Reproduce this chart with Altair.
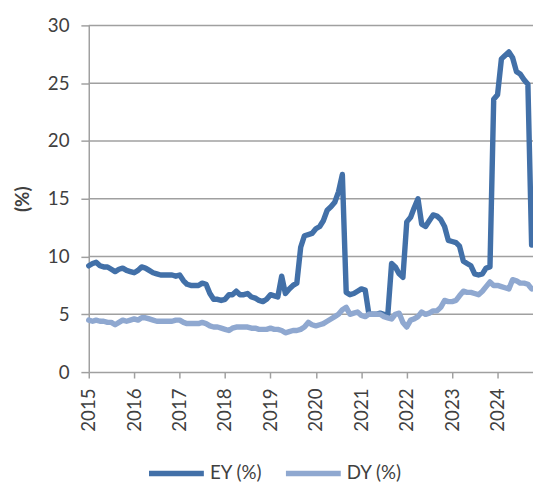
import altair as alt
import pandas as pd

months = pd.date_range("2015-01-01", periods=118, freq="MS").strftime("%Y-%m-%d").tolist()

ey = [9.2, 9.4, 9.5, 9.2, 9.1, 9.1, 8.9, 8.7, 8.9, 9.0, 8.8, 8.7,
      8.6, 8.8, 9.1, 9.0, 8.8, 8.6, 8.5, 8.4, 8.4, 8.4, 8.4, 8.3,
      8.4, 7.9, 7.6, 7.5, 7.5, 7.5, 7.7, 7.6, 6.8, 6.3, 6.3, 6.2,
      6.3, 6.7, 6.7, 7.0, 6.7, 6.7, 6.8, 6.5, 6.4, 6.2, 6.1, 6.3,
      6.7, 6.6, 6.5, 8.3, 6.8, 7.2, 7.5, 7.7, 10.8, 11.8, 11.9, 12.0,
      12.4, 12.6, 13.1, 14.0, 14.3, 14.7, 15.6, 17.1, 6.9, 6.7, 6.8, 7.0,
      7.2, 7.1, 5.1, 5.0, 5.0, 5.1, 5.0, 4.9, 9.4, 9.1, 8.5, 8.2,
      13.0, 13.4, 14.2, 15.0, 12.8, 12.6, 13.1, 13.6, 13.5, 13.2, 12.6, 11.4,
      11.3, 11.2, 10.9, 9.6, 9.4, 9.2, 8.5, 8.4, 8.5, 9.0, 9.1, 23.6,
      24.0, 27.1, 27.4, 27.7, 27.2, 26.0, 25.8, 25.3, 24.9, 11.0]

dy = [4.5, 4.4, 4.5, 4.4, 4.4, 4.3, 4.3, 4.1, 4.3, 4.5, 4.4, 4.5,
      4.6, 4.5, 4.7, 4.7, 4.6, 4.5, 4.4, 4.4, 4.4, 4.4, 4.4, 4.5,
      4.5, 4.3, 4.2, 4.2, 4.2, 4.2, 4.3, 4.2, 4.0, 3.9, 3.9, 3.8,
      3.7, 3.6, 3.8, 3.9, 3.9, 3.9, 3.9, 3.8, 3.8, 3.7, 3.7, 3.7,
      3.8, 3.7, 3.7, 3.6, 3.4, 3.5, 3.6, 3.6, 3.7, 3.9, 4.3, 4.1,
      4.0, 4.1, 4.2, 4.4, 4.6, 4.8, 5.0, 5.4, 5.6, 5.0, 5.1, 5.2,
      4.9, 4.8, 5.0, 5.0, 5.0, 5.0, 4.8, 4.7, 4.6, 5.0, 5.1, 4.3,
      3.9, 4.5, 4.6, 4.8, 5.2, 5.0, 5.1, 5.3, 5.3, 5.6, 6.2, 6.1,
      6.1, 6.2, 6.6, 7.0, 6.9, 6.9, 6.8, 6.7, 7.0, 7.4, 7.8, 7.5,
      7.5, 7.4, 7.3, 7.2, 8.0, 7.9, 7.7, 7.7, 7.6, 7.2]

y_ticks = [0, 5, 10, 15, 20, 25, 30]
x_range = ["2015-01-01", "2024-10-12"]
series_names = ["EY (%)", "DY (%)"]
colors = ["#4270a8", "#8fa8d0"]

rows = []
for d, v in zip(months, ey):
    rows.append({"date": d, "value": v, "series": series_names[0], "order": 0})
for d, v in zip(months, dy):
    rows.append({"date": d, "value": v, "series": series_names[1], "order": 1})
df = pd.DataFrame(rows)

grid_rows = []
for gv in y_ticks[1:]:
    for d in x_range:
        grid_rows.append({"date": d, "gv": gv})
grid_df = pd.DataFrame(grid_rows)

FONT = "Lato"
GRID = "#a0a0a0"

xscale = alt.Scale(domain=x_range)
yscale = alt.Scale(domain=[0, 30], nice=False)
yaxis = alt.Axis(values=y_ticks, title="(%)", grid=False,
                 titleFontSize=19, titleFontWeight="bold", titleColor="#404040",
                 titlePadding=15, labelFontSize=19, labelColor="#404040",
                 labelPadding=12, tickSize=8,
                 domainColor=GRID, tickColor=GRID,
                 domainWidth=1.5, tickWidth=1.5)

grid = alt.Chart(grid_df).mark_line(color=GRID, strokeWidth=1.5).encode(
    x=alt.X("date:T", scale=xscale, axis=None),
    y=alt.Y("gv:Q", scale=yscale, axis=None),
    detail="gv:N",
)

lines = alt.Chart(df).mark_line(strokeWidth=5.5, strokeCap="round", strokeJoin="round").encode(
    x=alt.X("date:T", scale=xscale,
            axis=alt.Axis(format="%Y", tickCount={"interval": "year", "step": 1},
                          labelAngle=-90, labelAlign="right", labelBaseline="middle",
                          labelPadding=10, tickSize=6, grid=False, title=None,
                          labelFontSize=19, labelColor="#404040",
                          domainColor=GRID, tickColor=GRID,
                          domainWidth=1.5, tickWidth=1.5)),
    y=alt.Y("value:Q", scale=yscale, axis=yaxis),
    color=alt.Color("series:N",
                    scale=alt.Scale(domain=series_names, range=colors),
                    legend=alt.Legend(orient="none", legendX=58, legendY=424,
                                      direction="horizontal", title=None,
                                      symbolType="stroke", symbolSize=3100,
                                      symbolStrokeWidth=5.5, labelFontSize=19,
                                      labelColor="#404040", labelOffset=3,
                                      columnPadding=12)),
    order=alt.Order("order:Q"),
    detail="series:N",
)

chart = alt.layer(grid, lines).resolve_axis(x="independent", y="independent").properties(
    width=451, height=352,
    autosize=alt.AutoSizeParams(type="none"),
    padding={"left": 82, "top": 14, "right": 0, "bottom": 114},
).configure(font=FONT).configure_view(stroke=None)

chart.save("out.html", embed_options={"renderer": "svg", "actions": False})
